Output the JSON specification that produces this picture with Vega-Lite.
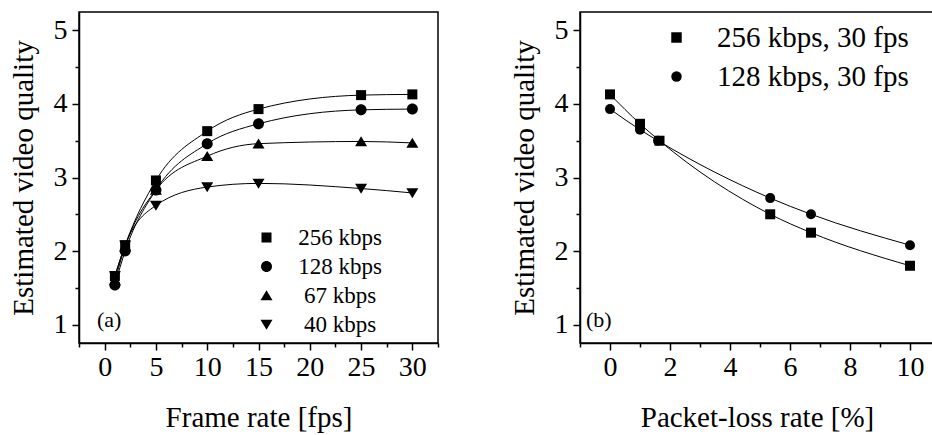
{
  "$schema": "https://vega.github.io/schema/vega-lite/v6.json",
  "autosize": {"type": "none"},
  "padding": {"left": 79, "top": 12, "right": 853, "bottom": 423},
  "background": "white",
  "spacing": 142,
  "bounds": "flush",
  "resolve": {"scale": {"shape": "independent"}, "legend": {"shape": "independent"}},
  "config": {
    "font": "Liberation Serif",
    "view": {"stroke": "black", "strokeWidth": 1.5},
    "axis": {
      "domainColor": "black", "domainWidth": 1.5, "tickColor": "black", "tickWidth": 1.5,
      "labelColor": "black", "titleColor": "black", "labelFont": "Liberation Serif", "titleFont": "Liberation Serif",
      "labelFontSize": 28, "titleFontSize": 29, "titleFontWeight": "normal", "grid": false,
      "labelFlush": false, "labelOverlap": false, "labelBound": false
    },
    "legend": {"labelFont": "Liberation Serif", "labelColor": "black", "titleColor": "black", "padding": 0, "labelLimit": 0}
  },
  "hconcat": [
    {
      "width": 359,
      "height": 331,
      "layer": [
        {
          "data": {"values": [
            {"fps": 1, "q": 1.66, "rate": "256 kbps"}, {"fps": 2, "q": 2.08, "rate": "256 kbps"}, {"fps": 5, "q": 2.96, "rate": "256 kbps"}, {"fps": 10, "q": 3.63, "rate": "256 kbps"}, {"fps": 15, "q": 3.93, "rate": "256 kbps"}, {"fps": 25, "q": 4.12, "rate": "256 kbps"}, {"fps": 30, "q": 4.13, "rate": "256 kbps"},
            {"fps": 1, "q": 1.54, "rate": "128 kbps"}, {"fps": 2, "q": 2.0, "rate": "128 kbps"}, {"fps": 5, "q": 2.83, "rate": "128 kbps"}, {"fps": 10, "q": 3.46, "rate": "128 kbps"}, {"fps": 15, "q": 3.73, "rate": "128 kbps"}, {"fps": 25, "q": 3.92, "rate": "128 kbps"}, {"fps": 30, "q": 3.93, "rate": "128 kbps"},
            {"fps": 1, "q": 1.6, "rate": "67 kbps"}, {"fps": 2, "q": 2.06, "rate": "67 kbps"}, {"fps": 5, "q": 2.83, "rate": "67 kbps"}, {"fps": 10, "q": 3.29, "rate": "67 kbps"}, {"fps": 15, "q": 3.46, "rate": "67 kbps"}, {"fps": 25, "q": 3.49, "rate": "67 kbps"}, {"fps": 30, "q": 3.47, "rate": "67 kbps"},
            {"fps": 1, "q": 1.66, "rate": "40 kbps"}, {"fps": 2, "q": 2.08, "rate": "40 kbps"}, {"fps": 5, "q": 2.62, "rate": "40 kbps"}, {"fps": 10, "q": 2.87, "rate": "40 kbps"}, {"fps": 15, "q": 2.92, "rate": "40 kbps"}, {"fps": 25, "q": 2.85, "rate": "40 kbps"}, {"fps": 30, "q": 2.79, "rate": "40 kbps"}
          ]},
          "layer": [
            {
              "mark": {"type": "line", "interpolate": "monotone", "color": "black", "strokeWidth": 1},
              "encoding": {
                "x": {"field": "fps", "type": "quantitative"},
                "y": {"field": "q", "type": "quantitative"},
                "detail": {"field": "rate", "type": "nominal"}
              }
            },
            {
              "mark": {"type": "point", "filled": true, "color": "black", "opacity": 1, "size": 100},
              "encoding": {
                "x": {"field": "fps", "type": "quantitative"},
                "y": {"field": "q", "type": "quantitative"},
                "shape": {
                  "field": "rate", "type": "nominal",
                  "scale": {"domain": ["256 kbps", "128 kbps", "67 kbps", "40 kbps"], "range": ["square", "M0,-1.1A1.1,1.1,0,1,1,0,1.1A1.1,1.1,0,1,1,0,-1.1Z", "M0,-1.05L1.2,0.95L-1.2,0.95Z", "M0,1.05L1.2,-0.95L-1.2,-0.95Z"]},
                  "legend": {"orient": "none", "legendX": 176, "legendY": 214, "title": null, "labelFontSize": 23, "labelAlign": "center", "labelOffset": 62, "rowPadding": 5, "symbolSize": 100, "symbolFillColor": "black", "symbolStrokeColor": "black", "symbolStrokeWidth": 0}
                }
              }
            }
          ]
        },
        {
          "data": {"values": [{"label": "(a)"}]},
          "mark": {"type": "text", "align": "left", "baseline": "alphabetic", "fontSize": 22, "font": "Liberation Serif", "color": "black"},
          "encoding": {
            "x": {"datum": -0.75, "type": "quantitative"},
            "y": {"datum": 0.97, "type": "quantitative"},
            "text": {"field": "label"}
          }
        }
      ],
      "encoding": {
        "x": {"type": "quantitative", "scale": {"domain": [-2.5, 32.5], "nice": false, "zero": false},
          "axis": {"title": "Frame rate [fps]", "values": [-2.5, 0, 2.5, 5, 7.5, 10, 12.5, 15, 17.5, 20, 22.5, 25, 27.5, 30, 32.5],
            "tickSize": {"condition": {"test": "datum.value % 5 === 0", "value": 7}, "value": 4},
            "labelExpr": "datum.value % 5 === 0 && datum.value >= 0 ? format(datum.value, 'd') : ''", "labelPadding": 3, "titlePadding": 22}},
        "y": {"type": "quantitative", "scale": {"domain": [0.75, 5.25], "nice": false, "zero": false},
          "axis": {"title": "Estimated video quality", "values": [1, 1.5, 2, 2.5, 3, 3.5, 4, 4.5, 5],
            "tickSize": {"condition": {"test": "datum.value % 1 === 0", "value": 7}, "value": 4},
            "labelExpr": "datum.value % 1 === 0 ? format(datum.value, 'd') : ''", "labelPadding": 5, "titlePadding": 15}}
      }
    },
    {
      "width": 360,
      "height": 331,
      "layer": [
        {
          "data": {"values": [
            {"loss": 0, "q": 4.13, "cond": "256 kbps, 30 fps"}, {"loss": 1, "q": 3.73, "cond": "256 kbps, 30 fps"}, {"loss": 1.65, "q": 3.5, "cond": "256 kbps, 30 fps"}, {"loss": 5.34, "q": 2.5, "cond": "256 kbps, 30 fps"}, {"loss": 6.7, "q": 2.25, "cond": "256 kbps, 30 fps"}, {"loss": 10, "q": 1.8, "cond": "256 kbps, 30 fps"},
            {"loss": 0, "q": 3.93, "cond": "128 kbps, 30 fps"}, {"loss": 1, "q": 3.65, "cond": "128 kbps, 30 fps"}, {"loss": 1.6, "q": 3.5, "cond": "128 kbps, 30 fps"}, {"loss": 5.34, "q": 2.72, "cond": "128 kbps, 30 fps"}, {"loss": 6.7, "q": 2.5, "cond": "128 kbps, 30 fps"}, {"loss": 10, "q": 2.08, "cond": "128 kbps, 30 fps"}
          ]},
          "layer": [
            {
              "mark": {"type": "line", "interpolate": "monotone", "color": "black", "strokeWidth": 1},
              "encoding": {
                "x": {"field": "loss", "type": "quantitative"},
                "y": {"field": "q", "type": "quantitative"},
                "detail": {"field": "cond", "type": "nominal"}
              }
            },
            {
              "mark": {"type": "point", "filled": true, "color": "black", "opacity": 1, "size": 100},
              "encoding": {
                "x": {"field": "loss", "type": "quantitative"},
                "y": {"field": "q", "type": "quantitative"},
                "shape": {
                  "field": "cond", "type": "nominal",
                  "scale": {"domain": ["256 kbps, 30 fps", "128 kbps, 30 fps"], "range": ["square", "circle"]},
                  "legend": {"orient": "none", "legendX": 82, "legendY": 11, "title": null, "labelFontSize": 29, "labelAlign": "left", "labelOffset": 26, "rowPadding": 9, "symbolSize": 110, "symbolFillColor": "black", "symbolStrokeColor": "black", "symbolStrokeWidth": 0}
                }
              }
            }
          ]
        },
        {
          "data": {"values": [{"label": "(b)"}]},
          "mark": {"type": "text", "align": "left", "baseline": "alphabetic", "fontSize": 22, "font": "Liberation Serif", "color": "black"},
          "encoding": {
            "x": {"datum": -0.8, "type": "quantitative"},
            "y": {"datum": 0.97, "type": "quantitative"},
            "text": {"field": "label"}
          }
        }
      ],
      "encoding": {
        "x": {"type": "quantitative", "scale": {"domain": [-1, 11], "nice": false, "zero": false},
          "axis": {"title": "Packet-loss rate [%]", "values": [-1, 0, 1, 2, 3, 4, 5, 6, 7, 8, 9, 10, 11],
            "tickSize": {"condition": {"test": "datum.value % 2 === 0", "value": 7}, "value": 4},
            "labelExpr": "datum.value % 2 === 0 && datum.value >= 0 && datum.value <= 10 ? format(datum.value, 'd') : ''", "labelPadding": 3, "titlePadding": 22, "titleX": 177}},
        "y": {"type": "quantitative", "scale": {"domain": [0.75, 5.25], "nice": false, "zero": false},
          "axis": {"title": "Estimated video quality", "values": [1, 1.5, 2, 2.5, 3, 3.5, 4, 4.5, 5],
            "tickSize": {"condition": {"test": "datum.value % 1 === 0", "value": 7}, "value": 4},
            "labelExpr": "datum.value % 1 === 0 ? format(datum.value, 'd') : ''", "labelPadding": 5, "titlePadding": 15}}
      }
    }
  ]
}
